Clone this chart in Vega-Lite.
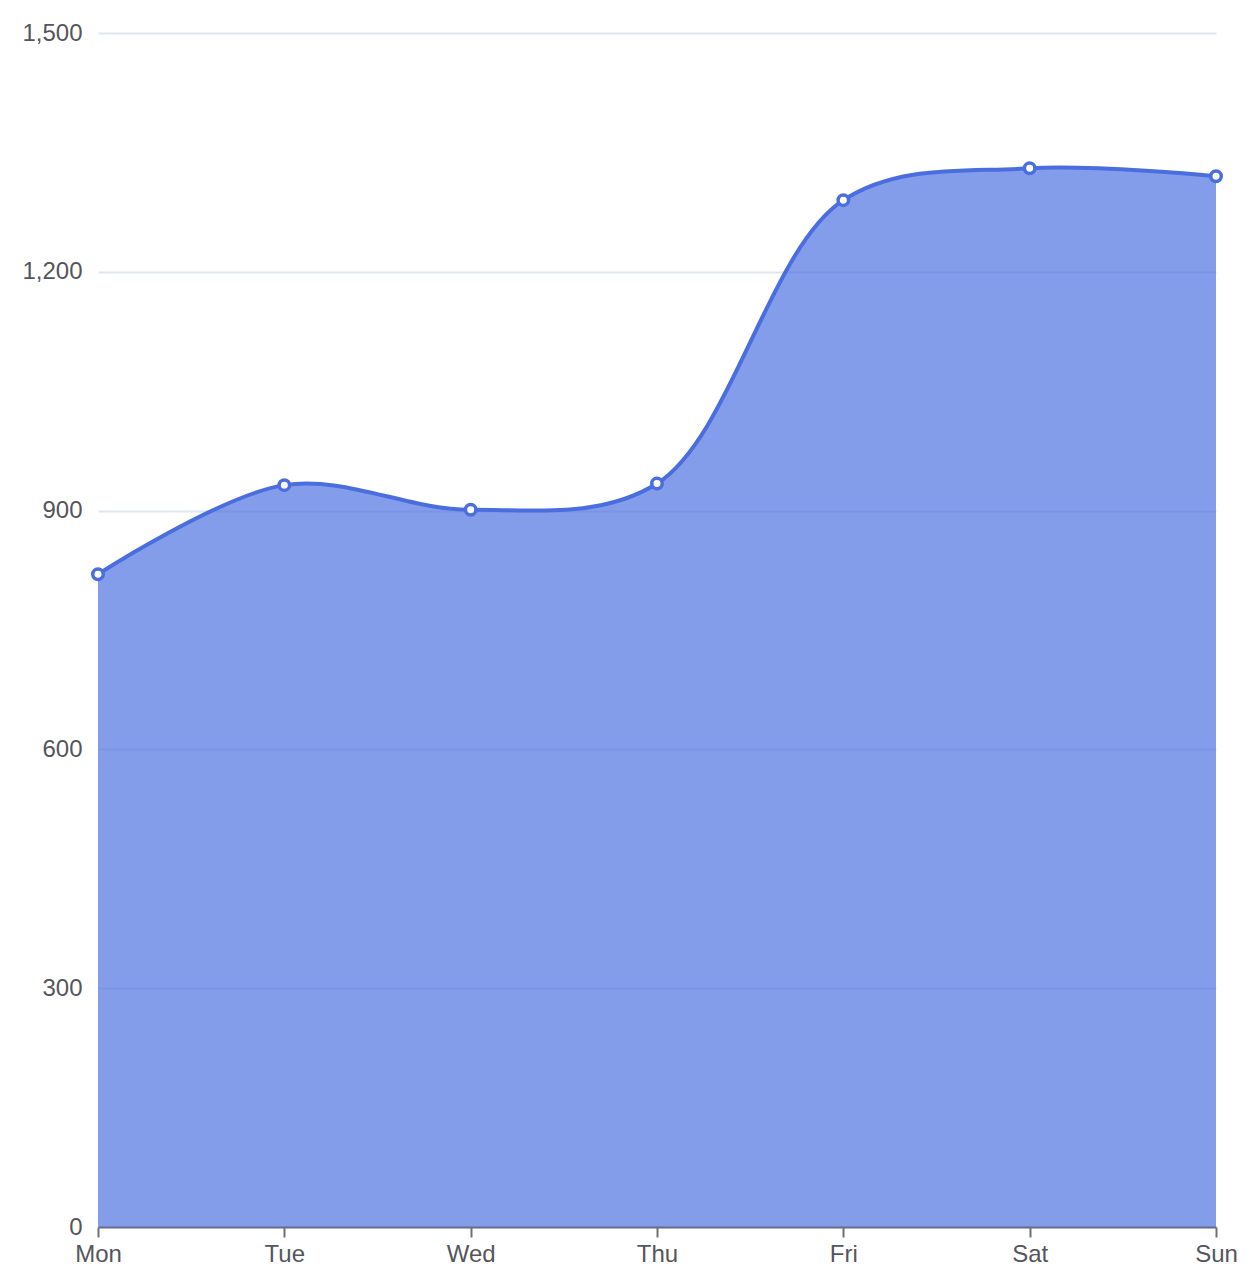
{
  "$schema": "https://vega.github.io/schema/vega-lite/v6.json",
  "autosize": {"type": "none"},
  "padding": {"left": 98, "top": 33, "right": 44, "bottom": 61},
  "width": 1118,
  "height": 1194,
  "background": "white",
  "data": {
    "values": [
      {"day": "Mon", "value": 820},
      {"day": "Tue", "value": 932},
      {"day": "Wed", "value": 901},
      {"day": "Thu", "value": 934},
      {"day": "Fri", "value": 1290},
      {"day": "Sat", "value": 1330},
      {"day": "Sun", "value": 1320}
    ]
  },
  "encoding": {
    "x": {
      "field": "day",
      "type": "ordinal",
      "sort": null,
      "scale": {"type": "point", "padding": 0},
      "axis": {
        "title": null,
        "labelAngle": 0,
        "labelFont": "Liberation Sans",
        "labelFontSize": 24,
        "labelColor": "#55565b",
        "labelPadding": 5,
        "domainColor": "#6E7079",
        "domainWidth": 2,
        "tickColor": "#6E7079",
        "tickWidth": 2,
        "tickSize": 10,
        "grid": false
      }
    },
    "y": {
      "field": "value",
      "type": "quantitative",
      "scale": {"domain": [0, 1500], "nice": false},
      "axis": {
        "title": null,
        "values": [0, 300, 600, 900, 1200, 1500],
        "format": ",.0f",
        "labelFont": "Liberation Sans",
        "labelFontSize": 24,
        "labelColor": "#55565b",
        "labelPadding": 16,
        "domain": false,
        "ticks": false,
        "grid": true,
        "gridColor": "#E0E6F1",
        "gridWidth": 2
      }
    }
  },
  "layer": [
    {
      "mark": {
        "type": "area",
        "interpolate": "catmull-rom",
        "color": "#4a6ee0",
        "opacity": 0.68
      }
    },
    {
      "mark": {
        "type": "line",
        "interpolate": "catmull-rom",
        "color": "#4a6ee0",
        "strokeWidth": 4
      }
    },
    {
      "mark": {
        "type": "point",
        "shape": "circle",
        "filled": true,
        "fill": "white",
        "stroke": "#4a6ee0",
        "strokeWidth": 3.5,
        "size": 110,
        "opacity": 1
      }
    }
  ],
  "config": {
    "view": {"stroke": null}
  }
}
